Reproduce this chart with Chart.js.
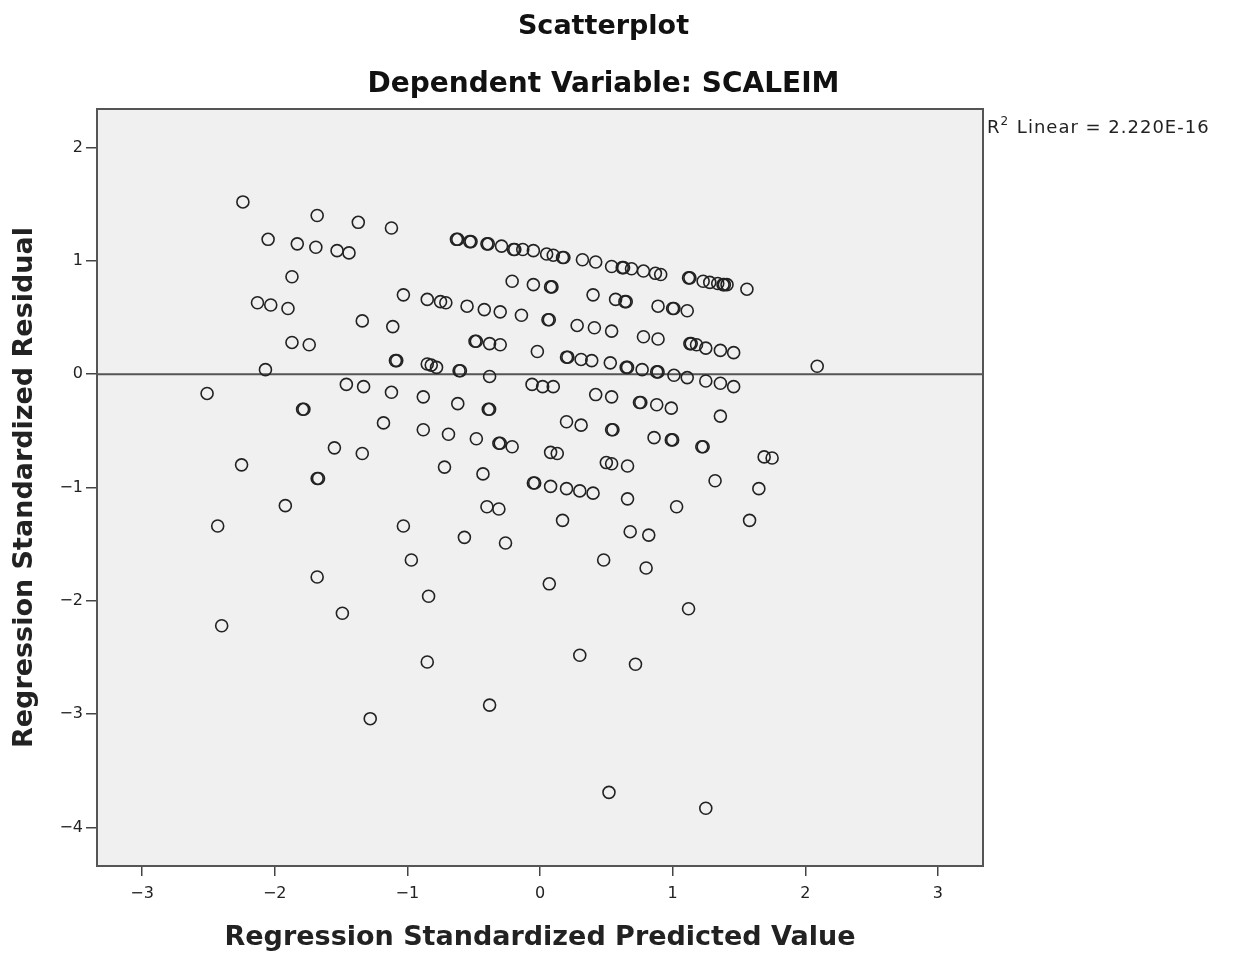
<!DOCTYPE html>
<html>
<head>
<meta charset="utf-8">
<script src="https://cdn.jsdelivr.net/npm/chart.js@4.4.1/dist/chart.umd.min.js"></script>
<style>
html, body { margin: 0; padding: 0; background: #fff; }
</style>
</head>
<body>
<canvas id="myChart" width="1235" height="954"></canvas>
<script>
// values
var predicted = [
  -2.24, -1.68, -1.37, -1.12, -2.05, -1.83, -1.69, -1.53, -1.44, -1.87,
  -2.13, -2.03, -1.90, -1.34, -1.11, -1.87, -1.74, -2.07, -2.51, -1.46,
  -1.33, -1.12, -1.79, -1.78, -1.18, -1.55, -1.34, -2.25, -1.68, -1.67,
  -1.92, -2.43, -1.68, -1.49, -2.40,
  // top band
  -0.63, -0.62, -0.53, -0.52, -0.40, -0.39, -0.29, -0.20, -0.19, -0.13,
  -0.05, 0.05, 0.10, 0.17, 0.18, 0.32, 0.42, 0.54, 0.62, 0.63,
  0.69, 0.78, 0.87, 0.91, 1.12, 1.13, 1.23, 1.28, 1.34, 1.38,
  1.39, 1.41, 1.56,
  // second band
  -0.21, -0.05, 0.08, 0.09, -1.03, -0.85, -0.75, -0.71, -0.55, -0.42,
  -0.30, -0.14, 0.40, 0.57, 0.64, 0.65, 0.89, 1.00, 1.01, 1.11,
  0.06, 0.07, 0.28, 0.41, 0.54, 0.78, 0.89, -0.49, -0.48, -0.38,
  -0.30, -0.02, 1.13, 1.14, 1.18, 1.25, 1.36, 1.46,
  // around zero
  -1.09, -1.08, -0.85, -0.82, -0.78, -0.61, -0.60, -0.38, 0.20, 0.21,
  0.31, 0.39, 0.53, 0.65, 0.66, 0.77, 0.88, 0.89, 1.01, 1.11,
  1.25, 1.36, 1.46, 2.09,
  // below zero
  -0.06, 0.02, 0.10, -0.88, -0.62, -0.39, -0.38, 0.42, 0.54, 0.75,
  0.76, 0.88, 0.99, 1.36, -0.88, -0.69, -0.48, -0.31, -0.30, -0.21,
  0.20, 0.31, 0.54, 0.55, 0.86, 0.99, 1.00, 1.22, 1.23, 0.08,
  0.13, 0.50, 0.54, 0.66, 1.69, 1.75, -0.72, -0.43, -0.05, -0.04,
  0.08, 0.20, 0.30, 0.40, 0.66, 1.32, 1.65, 1.03, -0.40, -0.31,
  -1.03, 0.17, 1.58, -0.57, -0.26, 0.68, 0.82, -0.97, 0.48, 0.80,
  0.07, -0.84, 1.12, -0.85, 0.30, 0.72, -0.38, -1.28, 0.52, 1.25
];
var residual = [
  1.52, 1.40, 1.34, 1.29, 1.19, 1.15, 1.12, 1.09, 1.07, 0.86,
  0.63, 0.61, 0.58, 0.47, 0.42, 0.28, 0.26, 0.04, -0.17, -0.09,
  -0.11, -0.16, -0.31, -0.31, -0.43, -0.65, -0.70, -0.80, -0.92, -0.92,
  -1.16, -1.34, -1.79, -2.11, -2.22,
  1.19, 1.19, 1.17, 1.17, 1.15, 1.15, 1.13, 1.10, 1.10, 1.10,
  1.09, 1.06, 1.05, 1.03, 1.03, 1.01, 0.99, 0.95, 0.94, 0.94,
  0.93, 0.91, 0.89, 0.88, 0.85, 0.85, 0.82, 0.81, 0.80, 0.79,
  0.79, 0.79, 0.75,
  0.82, 0.79, 0.77, 0.77, 0.70, 0.66, 0.64, 0.63, 0.60, 0.57,
  0.55, 0.52, 0.70, 0.66, 0.64, 0.64, 0.60, 0.58, 0.58, 0.56,
  0.48, 0.48, 0.43, 0.41, 0.38, 0.33, 0.31, 0.29, 0.29, 0.27,
  0.26, 0.20, 0.27, 0.27, 0.26, 0.23, 0.21, 0.19,
  0.12, 0.12, 0.09, 0.08, 0.06, 0.03, 0.03, -0.02, 0.15, 0.15,
  0.13, 0.12, 0.10, 0.06, 0.06, 0.04, 0.02, 0.02, -0.01, -0.03,
  -0.06, -0.08, -0.11, 0.07,
  -0.09, -0.11, -0.11, -0.20, -0.26, -0.31, -0.31, -0.18, -0.20, -0.25,
  -0.25, -0.27, -0.30, -0.37, -0.49, -0.53, -0.57, -0.61, -0.61, -0.64,
  -0.42, -0.45, -0.49, -0.49, -0.56, -0.58, -0.58, -0.64, -0.64, -0.69,
  -0.70, -0.78, -0.79, -0.81, -0.73, -0.74, -0.82, -0.88, -0.96, -0.96,
  -0.99, -1.01, -1.03, -1.05, -1.10, -0.94, -1.01, -1.17, -1.17, -1.19,
  -1.34, -1.29, -1.29, -1.44, -1.49, -1.39, -1.42, -1.64, -1.64, -1.71,
  -1.85, -1.96, -2.07, -2.54, -2.48, -2.56, -2.92, -3.04, -3.69, -3.83
];
var fitX = [-3.34, 3.34];
var fitY = [0, 0];
var xTicks = [-3, -2, -1, 0, 1, 2, 3];
var yTicks = [-4, -3, -2, -1, 0, 1, 2];

var points = predicted.map(function (x, i) { return { x: x, y: residual[i] }; });
var fitLine = fitX.map(function (x, i) { return { x: x, y: fitY[i] }; });

function minusLabel(v) { return String(v).replace('-', '\u2212'); }

var plotBox = {
  id: 'plotBox',
  beforeDatasetsDraw: function (chart) {
    var a = chart.chartArea, c = chart.ctx;
    c.save();
    c.fillStyle = '#f0f0f0';
    c.fillRect(a.left, a.top, a.right - a.left, a.bottom - a.top);
    c.restore();
  },
  afterDraw: function (chart) {
    var a = chart.chartArea, c = chart.ctx;
    c.save();
    c.strokeStyle = '#555';
    c.lineWidth = 2;
    c.strokeRect(a.left, a.top, a.right - a.left, a.bottom - a.top);
    // R2 label
    c.fillStyle = '#222';
    c.textBaseline = 'alphabetic';
    c.letterSpacing = '1px';
    c.font = '18px "DejaVu Sans"';
    var x = a.right + 4, y = 133;
    c.fillText('R', x, y);
    x += c.measureText('R').width;
    c.font = '12px "DejaVu Sans"';
    c.fillText('2', x, y - 8);
    x += c.measureText('2').width;
    c.font = '18px "DejaVu Sans"';
    c.fillText(' Linear = 2.220E-16', x + 1, y);
    c.restore();
  }
};

var ctx = document.getElementById('myChart').getContext('2d');
var myChart = new Chart(ctx, {
  type: 'scatter',
  data: {
    datasets: [{
      label: 'points',
      data: points,
      pointRadius: 6,
      pointHoverRadius: 6,
      borderWidth: 1.6,
      borderColor: '#222',
      backgroundColor: 'transparent'
    }, {
      type: 'line',
      label: 'fit',
      data: fitLine,
      borderColor: '#555',
      borderWidth: 2,
      pointRadius: 0,
      fill: false
    }]
  },
  options: {
    responsive: false,
    animation: false,
    devicePixelRatio: 1,
    layout: { padding: { left: 0, right: 28, top: 0, bottom: 0 } },
    plugins: {
      legend: { display: false },
      tooltip: { enabled: false },
      title: {
        display: true,
        text: 'Scatterplot',
        color: '#111',
        font: { family: 'DejaVu Sans', size: 27, weight: 'bold', lineHeight: 1.2 },
        padding: { top: 11, bottom: 25 }
      },
      subtitle: {
        display: true,
        text: 'Dependent Variable: SCALEIM',
        color: '#111',
        font: { family: 'DejaVu Sans', size: 28, weight: 'bold', lineHeight: 1.2 },
        padding: { top: 0, bottom: 7 }
      }
    },
    scales: {
      x: {
        type: 'linear',
        position: 'bottom',
        min: -3.34,
        max: 3.34,
        afterBuildTicks: function (s) { s.ticks = xTicks.map(function (v) { return { value: v }; }); },
        afterFit: function (s) { s.height = 88; },
        ticks: { color: '#222', font: { family: 'DejaVu Sans', size: 16 }, padding: 8, callback: minusLabel },
        grid: { drawOnChartArea: false, drawTicks: true, tickLength: 10, color: '#444', lineWidth: 1.5 },
        border: { display: true, color: '#555', width: 2 },
        title: {
          display: true,
          text: 'Regression Standardized Predicted Value',
          color: '#222',
          font: { family: 'DejaVu Sans', size: 27, weight: 'bold', lineHeight: 1.2 },
          padding: { top: 0, bottom: 0 }
        }
      },
      y: {
        type: 'linear',
        min: -4.34,
        max: 2.34,
        afterBuildTicks: function (s) { s.ticks = yTicks.map(function (v) { return { value: v }; }); },
        afterFit: function (s) { s.width = 97; },
        ticks: { color: '#222', font: { family: 'DejaVu Sans', size: 16 }, padding: 3, callback: minusLabel },
        grid: { drawOnChartArea: false, drawTicks: true, tickLength: 11, color: '#444', lineWidth: 1.5 },
        border: { display: true, color: '#555', width: 2 },
        title: {
          display: true,
          text: 'Regression Standardized Residual',
          color: '#222',
          font: { family: 'DejaVu Sans', size: 27, weight: 'bold', lineHeight: 1.2 },
          padding: { top: 9, bottom: 0 }
        }
      },
      yRight: {
        type: 'linear',
        position: 'right',
        display: true,
        min: 0,
        max: 1,
        afterBuildTicks: function (s) { s.ticks = []; },
        afterFit: function (s) { s.width = 224; },
        ticks: { display: false },
        grid: { display: false },
        border: { display: false }
      }
    }
  },
  plugins: [plotBox]
});
</script>
</body>
</html>
